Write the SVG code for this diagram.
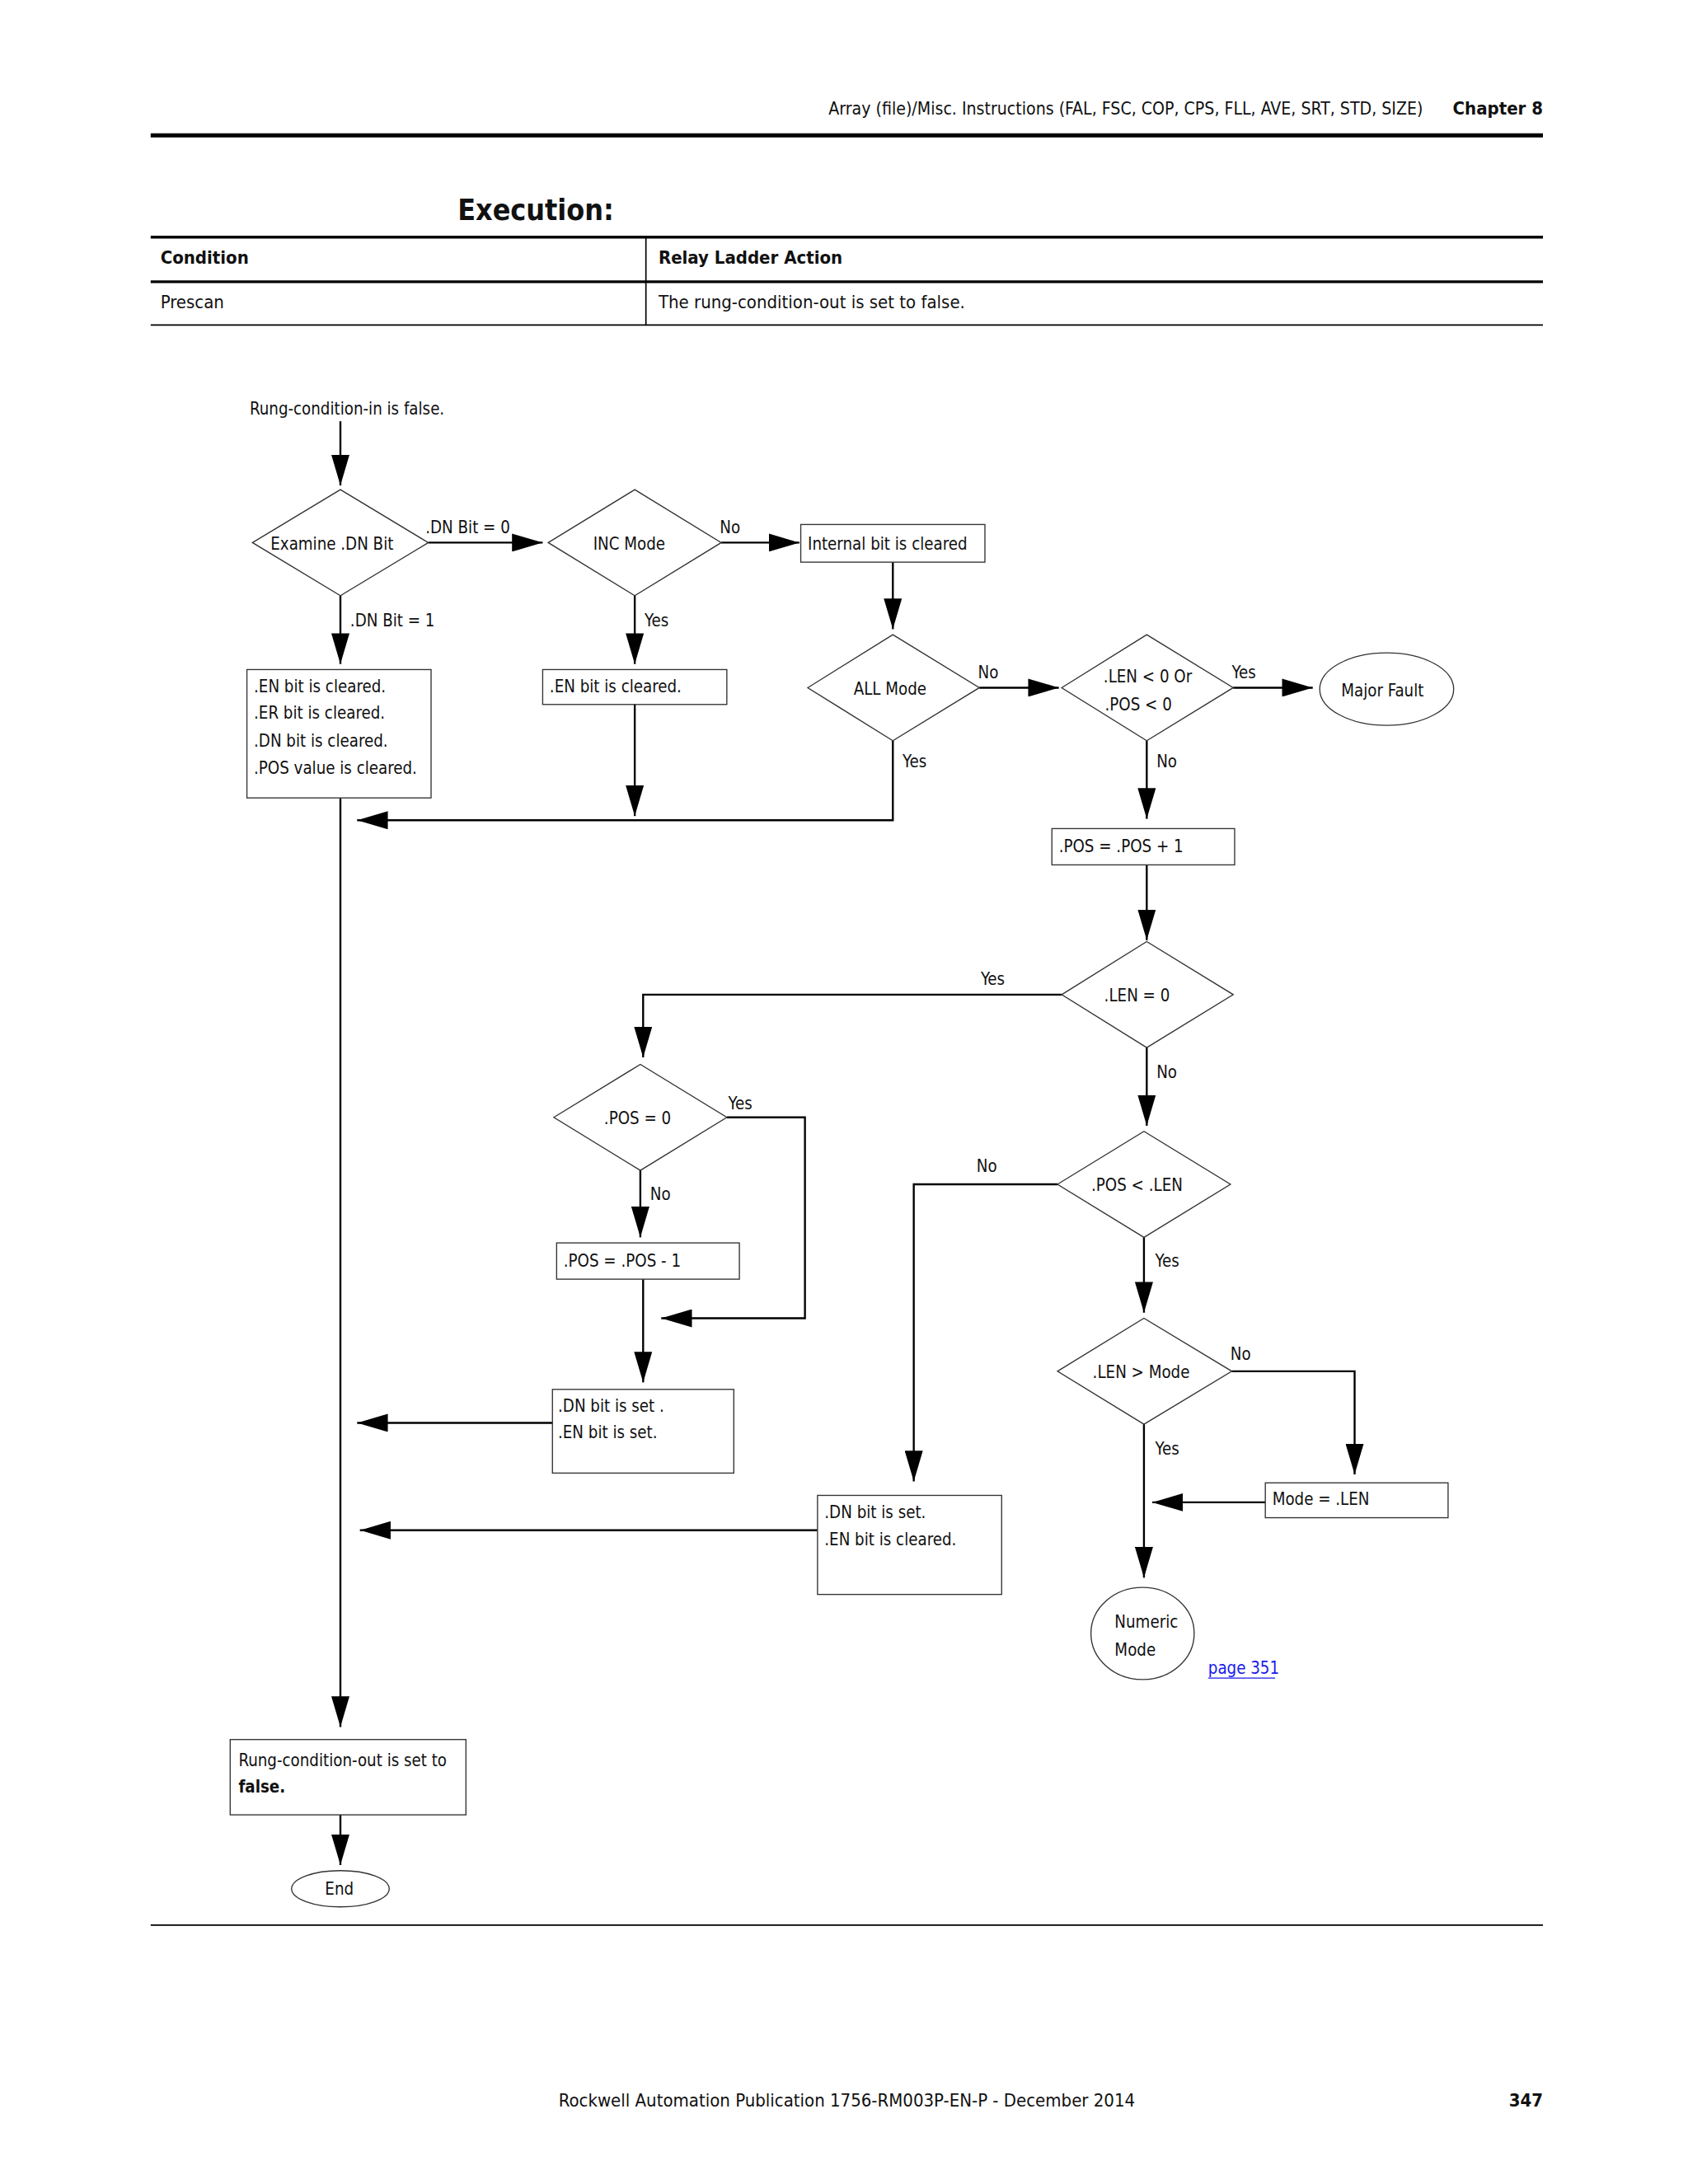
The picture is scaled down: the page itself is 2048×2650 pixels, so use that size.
<svg xmlns="http://www.w3.org/2000/svg" width="2048" height="2650" viewBox="0 0 2048 2650">
<style>
text{font-family:"DejaVu Sans Condensed","Liberation Sans",sans-serif;font-stretch:condensed;font-size:12px;fill:#111}
.b{font-weight:bold}
.n{fill:#fff;stroke:#333;stroke-width:0.8}
.c{fill:none;stroke:#000;stroke-width:1.4}
</style>
<defs>
<marker id="a" markerUnits="userSpaceOnUse" markerWidth="22" markerHeight="13" refX="22" refY="6.5" orient="auto"><path d="M0,0L22,6.5L0,13z" fill="#000"/></marker>
</defs>
<rect width="2048" height="2650" fill="#fff"/>
<g transform="scale(1.6926)">
<g id="page">
<text x="1020" y="82" text-anchor="end" style="font-size:12.5px">Array (file)/Misc. Instructions (FAL, FSC, COP, CPS, FLL, AVE, SRT, STD, SIZE)</text>
<text x="1106" y="82" text-anchor="end" class="b" style="font-size:13px">Chapter 8</text>
<line x1="108" y1="97" x2="1106" y2="97" stroke="#000" stroke-width="3"/>
<text x="328" y="158" class="b" style="font-size:21px">Execution:</text>
<line x1="108" y1="170" x2="1106" y2="170" stroke="#000" stroke-width="2"/>
<line x1="108" y1="202" x2="1106" y2="202" stroke="#000" stroke-width="2"/>
<line x1="108" y1="233" x2="1106" y2="233" stroke="#000" stroke-width="1"/>
<line x1="463" y1="170" x2="463" y2="233" stroke="#000" stroke-width="1"/>
<text x="115" y="189" class="b" style="font-size:13px">Condition</text>
<text x="472" y="189" class="b" style="font-size:13px">Relay Ladder Action</text>
<text x="115" y="221" style="font-size:13px">Prescan</text>
<text x="472" y="221" style="font-size:13px">The rung-condition-out is set to false.</text>
<line x1="108" y1="1380" x2="1106" y2="1380" stroke="#000" stroke-width="1"/>
<text x="607" y="1510" text-anchor="middle" style="font-size:13px">Rockwell Automation Publication 1756-RM003P-EN-P - December 2014</text>
<text x="1106" y="1510" text-anchor="end" class="b" style="font-size:13px">347</text>
</g>
<text x="179" y="297">Rung-condition-in is false.</text>
<g id="connectors">
<path class="c" marker-end="url(#a)" d="M244,302V348"/>
<path class="c" marker-end="url(#a)" d="M307,389H389"/>
<path class="c" marker-end="url(#a)" d="M517,389H573"/>
<path class="c" marker-end="url(#a)" d="M640,403V451"/>
<path class="c" marker-end="url(#a)" d="M702,493H759"/>
<path class="c" marker-end="url(#a)" d="M884,493H941"/>
<path class="c" marker-end="url(#a)" d="M822,531V587"/>
<path class="c" marker-end="url(#a)" d="M822,620V674"/>
<path class="c" marker-end="url(#a)" d="M761,713H461V758"/>
<path class="c" marker-end="url(#a)" d="M822,751V807"/>
<path class="c" marker-end="url(#a)" d="M521,801H577V945H474"/>
<path class="c" marker-end="url(#a)" d="M459,839V887"/>
<path class="c" marker-end="url(#a)" d="M461,917V991"/>
<path class="c" marker-end="url(#a)" d="M396,1020H256"/>
<path class="c" marker-end="url(#a)" d="M758,849H655V1062"/>
<path class="c" marker-end="url(#a)" d="M820,887V941"/>
<path class="c" marker-end="url(#a)" d="M883,983H971V1057"/>
<path class="c" marker-end="url(#a)" d="M907,1077H826"/>
<path class="c" marker-end="url(#a)" d="M820,1021V1131"/>
<path class="c" marker-end="url(#a)" d="M586,1097H258"/>
<path class="c" marker-end="url(#a)" d="M244,427V476"/>
<path class="c" marker-end="url(#a)" d="M455,427V476"/>
<path class="c" marker-end="url(#a)" d="M455,505V585"/>
<path class="c" marker-end="url(#a)" d="M640,531V588H256"/>
<path class="c" marker-end="url(#a)" d="M244,572V1238"/>
<path class="c" marker-end="url(#a)" d="M244,1301V1337"/>
<text x="305" y="382">.DN Bit = 0</text>
<text x="516" y="382">No</text>
<text x="251" y="449">.DN Bit = 1</text>
<text x="462" y="449">Yes</text>
<text x="701" y="486">No</text>
<text x="883" y="486">Yes</text>
<text x="647" y="550">Yes</text>
<text x="829" y="550">No</text>
<text x="703" y="706">Yes</text>
<text x="829" y="773">No</text>
<text x="522" y="795">Yes</text>
<text x="466" y="860">No</text>
<text x="700" y="840">No</text>
<text x="828" y="908">Yes</text>
<text x="882" y="975">No</text>
<text x="828" y="1043">Yes</text>
</g>
<g id="examine"><path class="n" d="M181,389L244,351L307,389L244,427z"/><text x="238" y="394" text-anchor="middle">Examine .DN Bit</text></g>
<g id="inc"><path class="n" d="M393,389L455,351L517,389L455,427z"/><text x="451" y="394" text-anchor="middle">INC Mode</text></g>
<g id="internal"><rect class="n" x="574" y="376" width="132" height="27"/><text x="579" y="394">Internal bit is cleared</text></g>
<g id="all"><path class="n" d="M579,493L640,455L702,493L640,531z"/><text x="638" y="498" text-anchor="middle">ALL Mode</text></g>
<g id="lenpos"><path class="n" d="M761,493L822,455L884,493L822,531z"/><text x="791" y="489">.LEN &lt; 0 Or</text><text x="792" y="509">.POS &lt; 0</text></g>
<g id="fault"><ellipse class="n" cx="994" cy="494" rx="48" ry="26"/><text x="991" y="499" text-anchor="middle">Major Fault</text></g>
<g id="posinc"><rect class="n" x="754" y="594" width="131" height="26"/><text x="759" y="611">.POS = .POS + 1</text></g>
<g id="len0"><path class="n" d="M761,713L822,675L884,713L822,751z"/><text x="815" y="718" text-anchor="middle">.LEN = 0</text></g>
<g id="pos0"><path class="n" d="M397,801L459,763L521,801L459,839z"/><text x="457" y="806" text-anchor="middle">.POS = 0</text></g>
<g id="posdec"><rect class="n" x="399" y="891" width="131" height="26"/><text x="404" y="908">.POS = .POS - 1</text></g>
<g id="dnset"><rect class="n" x="396" y="996" width="130" height="60"/><text x="400" y="1012">.DN bit is set .</text><text x="400" y="1031">.EN bit is set.</text></g>
<g id="poslen"><path class="n" d="M758,849L820,811L882,849L820,887z"/><text x="815" y="854" text-anchor="middle">.POS &lt; .LEN</text></g>
<g id="lenmode"><path class="n" d="M758,983L820,945L883,983L820,1021z"/><text x="818" y="988" text-anchor="middle">.LEN &gt; Mode</text></g>
<g id="modelen"><rect class="n" x="907" y="1063" width="131" height="25"/><text x="912" y="1079">Mode = .LEN</text></g>
<g id="numeric"><ellipse class="n" cx="819" cy="1171" rx="37" ry="33"/><text x="799" y="1167">Numeric</text><text x="799" y="1187">Mode</text>
<text x="866" y="1200" style="fill:#1a1aee">page 351</text><line x1="866" y1="1203" x2="914" y2="1203" stroke="#1a1aee" stroke-width="0.8"/></g>
<g id="dnclr"><rect class="n" x="586" y="1072" width="132" height="71"/><text x="591" y="1088">.DN bit is set.</text><text x="591" y="1108">.EN bit is cleared.</text></g>
<g id="cleared4"><rect class="n" x="177" y="480" width="132" height="92"/><text x="182" y="496">.EN bit is cleared.</text><text x="182" y="515">.ER bit is cleared.</text><text x="182" y="535">.DN bit is cleared.</text><text x="182" y="555">.POS value is cleared.</text></g>
<g id="encleared"><rect class="n" x="389" y="480" width="132" height="25"/><text x="394" y="496">.EN bit is cleared.</text></g>
<g id="rungout"><rect class="n" x="165" y="1247" width="169" height="54"/><text x="171" y="1266">Rung-condition-out is set to</text><text x="171" y="1285" class="b">false.</text></g>
<g id="end"><ellipse class="n" cx="244" cy="1354" rx="35" ry="13"/><text x="233" y="1358">End</text></g>
</g>
</svg>
